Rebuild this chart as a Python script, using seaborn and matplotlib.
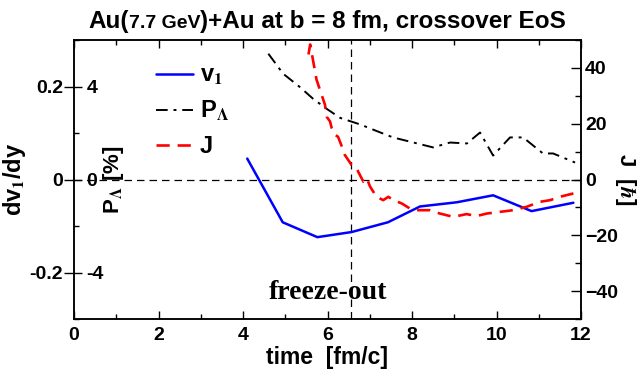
import numpy as np
import pandas as pd
import matplotlib
matplotlib.use("Agg")
import matplotlib.pyplot as plt
import seaborn as sns
from matplotlib.ticker import MultipleLocator

# time evolution for Au+Au at 7.7 GeV, b = 8 fm
t_v1 = [4.10, 4.94, 5.76, 6.57, 7.43, 8.19, 9.06, 9.92, 10.83, 11.82]
v1 = [0.045, -0.092, -0.124, -0.113, -0.092, -0.058, -0.049, -0.034, -0.068, -0.050]

t_pol = [4.60, 4.95, 5.35, 5.66, 5.98, 6.30, 6.77, 7.24, 7.55, 8.50, 8.90, 9.30,
         9.61, 9.92, 10.32, 10.63, 11.10, 11.34, 11.86]
pol = [5.41, 4.55, 3.97, 3.47, 3.04, 2.65, 2.37, 2.03, 1.81, 1.38, 1.59, 1.55,
       2.02, 1.03, 1.81, 1.81, 1.12, 1.12, 0.73]

t_J = [5.55, 5.59, 5.74, 5.86, 5.94, 5.98, 6.06, 6.10, 6.18, 6.25, 6.34, 6.41,
       6.49, 6.57, 6.69, 6.73, 6.85, 6.93, 7.01, 7.16, 7.32, 7.44, 7.56, 7.76,
       7.95, 8.15, 8.43, 8.66, 8.98, 9.29, 9.53, 9.77, 10.08, 10.40, 10.71,
       11.03, 11.27, 11.50, 11.82]
J = [44.8, 48.4, 35.8, 30.4, 26.8, 22.5, 20.8, 18.4, 16.0, 15.3, 11.8, 8.8,
     7.0, 5.2, 4.1, 2.7, -0.8, 0.4, -2.6, -6.2, -7.4, -6.2, -7.4, -8.6,
     -10.4, -11.0, -11.0, -12.2, -13.4, -12.4, -13.1, -12.2, -11.6, -11.0, -9.8,
     -8.0, -7.4, -6.2, -5.0]

t_freeze = 6.55

df_v1 = pd.DataFrame({"time": t_v1, "v1": v1})
df_pol = pd.DataFrame({"time": t_pol, "P": pol})
df_J = pd.DataFrame({"time": t_J, "J": J})

sns.set_style("ticks")
plt.rcParams["font.family"] = ["Liberation Sans", "DejaVu Sans"]
plt.rcParams["font.weight"] = "bold"
plt.rcParams["mathtext.fontset"] = "stix"
for key in ("text.color", "axes.labelcolor", "xtick.color", "ytick.color",
            "axes.edgecolor"):
    plt.rcParams[key] = "black"

W, H = 641, 376
fig = plt.figure(figsize=(W / 100, H / 100), dpi=100)
ax = fig.add_axes([74 / W, 1 - 319 / H, (581 - 74) / W, (319 - 40) / H])
axP = ax.twinx()
axJ = ax.twinx()

# reference lines
ax.axhline(0, color="black", lw=0.9, ls=(0, (6, 4)), zorder=1)
ax.axvline(t_freeze, color="black", lw=0.9, ls=(0, (6, 4)), zorder=1)

v1_style = dict(color="#0000ff", lw=1.8)
pol_style = dict(color="black", lw=1.4, ls=(0, (6, 3, 1.5, 3)))
J_style = dict(color="#ff0000", lw=1.9, ls=(0, (5, 3)))

sns.lineplot(data=df_v1, x="time", y="v1", ax=ax, legend=False, **v1_style)
sns.lineplot(data=df_pol, x="time", y="P", ax=axP, legend=False, **pol_style)
sns.lineplot(data=df_J, x="time", y="J", ax=axJ, legend=False, **J_style)

ax.set_xlim(0, 12)
ax.set_ylim(-0.3, 0.3)
axP.set_ylim(-6, 6)
axJ.set_ylim(-50, 50)

# x axis
ax.xaxis.set_major_locator(MultipleLocator(2))
ax.xaxis.set_minor_locator(MultipleLocator(1))
ax.tick_params(axis="x", which="major", direction="in", length=6, width=1,
               top=True, labelsize=14, pad=6)
ax.tick_params(axis="x", which="minor", direction="in", length=3.5, width=1,
               top=True)
ax.set_xlabel("time  [fm/c]", fontsize=16.5, fontweight="bold", labelpad=1)

# left: dv1/dy
ax.yaxis.set_minor_locator(MultipleLocator(0.1))
ax.set_yticks([-0.2, 0, 0.2])
ax.set_yticklabels(["-0.2", "0", "0.2"])
ax.tick_params(axis="y", which="major", direction="out", length=7, width=1,
               labelsize=14, pad=1, right=False)
ax.tick_params(axis="y", which="minor", direction="in", length=3.5, width=1,
               right=False)
ax.set_ylabel(r"dv$_\mathbf{1}$/dy", fontsize=17, fontweight="bold")
ax.yaxis.set_label_coords(-0.09, 0.5)

# left inner: polarization, ticks and labels inside the frame
axP.set_yticks([-4, 0, 4])
axP.set_yticklabels(["-4", "0", "4"])
axP.tick_params(axis="y", which="both", left=True, labelleft=True,
                right=False, labelright=False, direction="in", length=6,
                width=1, labelsize=14, pad=-9)
for lbl in axP.get_yticklabels():
    lbl.set_horizontalalignment("left")
axP.spines[:].set_visible(False)
axP.set_ylabel("")
axP.yaxis.label.set_visible(False)
axP.text(0.077, 0.5, r"P$_{\Lambda}$ [%]", transform=ax.transAxes,
         rotation=90, ha="center", va="center", fontsize=16, fontweight="bold")

# right: J
axJ.set_yticks([-40, -20, 0, 20, 40])
axJ.yaxis.set_minor_locator(MultipleLocator(10))
axJ.tick_params(axis="y", which="major", direction="in", length=7, width=1,
                labelsize=14, pad=3)
axJ.tick_params(axis="y", which="minor", direction="in", length=4, width=1)
axJ.set_ylabel(r"J  [$\hbar$]", fontsize=16, fontweight="bold", rotation=-90,
               labelpad=14)

for a in (ax, axJ):
    for s in a.spines.values():
        s.set_linewidth(1.1)

# legend
handles = [plt.Line2D([], [], **v1_style),
           plt.Line2D([], [], **pol_style),
           plt.Line2D([], [], **J_style)]
labels = [r"v$_\mathbf{1}$", r"P$_{\Lambda}$", "J"]
leg = ax.legend(handles, labels, loc="upper left", bbox_to_anchor=(0.12, 0.99),
                frameon=False, handlelength=1.55, handletextpad=0.3,
                labelspacing=0.5, prop=dict(weight="bold", size=17))
leg.set_zorder(10)

ax.text(6.0, -0.243, "freeze-out", fontsize=20, fontweight="bold",
        family="Liberation Serif", ha="center", va="center")

# title with a smaller energy label
fig.canvas.draw()
renderer = fig.canvas.get_renderer()
parts = [("Au(", 17.5), ("7.7 GeV", 14), (")+Au at b = 8 fm, crossover EoS", 17.5)]
texts = []
for s, fs in parts:
    texts.append(fig.text(0, 1 - 28 / H, s, fontsize=fs, fontweight="bold",
                          ha="left", va="baseline"))
widths = [tx.get_window_extent(renderer).width / W for tx in texts]
x = 327 / W - sum(widths) / 2
for tx, w in zip(texts, widths):
    tx.set_x(x)
    x += w

fig.savefig("out.png", dpi=100)
